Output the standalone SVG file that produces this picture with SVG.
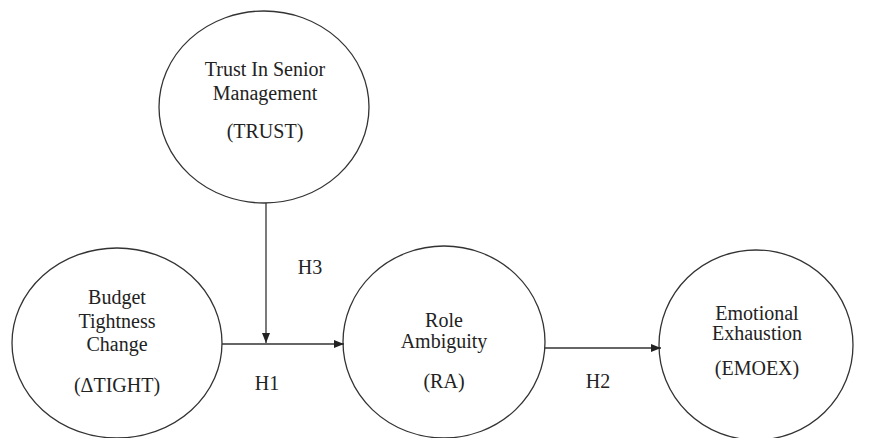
<svg xmlns="http://www.w3.org/2000/svg" width="876" height="438" viewBox="0 0 876 438">
<style>
.node{fill:#fff;stroke:#333;stroke-width:1.3}
.t{font-family:'Liberation Serif',Tinos,'Times New Roman',Times,serif;font-size:20px;fill:#222;text-anchor:middle}
.edge{stroke:#333;stroke-width:1.3;fill:none}
</style>
<defs>
<marker id="arr" markerWidth="10" markerHeight="8" refX="10" refY="4" orient="auto" markerUnits="userSpaceOnUse">
<path d="M0,0 L10,4 L0,8 Z" fill="#222"/>
</marker>
</defs>
<rect width="876" height="438" fill="#fff"/>
<g id="trust">
<ellipse class="node" cx="264" cy="107" rx="105" ry="96"/>
<text class="t" x="265" y="76">Trust In Senior</text>
<text class="t" x="265" y="100">Management</text>
<text class="t" x="265" y="138">(TRUST)</text>
</g>
<g id="tight">
<ellipse class="node" cx="117" cy="343" rx="105" ry="95"/>
<text class="t" x="117" y="304">Budget</text>
<text class="t" x="117" y="328">Tightness</text>
<text class="t" x="117" y="351">Change</text>
<text class="t" x="117" y="392">(ΔTIGHT)</text>
</g>
<g id="ra">
<ellipse class="node" cx="444" cy="342" rx="101" ry="96"/>
<text class="t" x="444" y="327">Role</text>
<text class="t" x="444" y="348">Ambiguity</text>
<text class="t" x="444" y="388">(RA)</text>
</g>
<g id="emoex">
<ellipse class="node" cx="756" cy="345" rx="97" ry="95"/>
<text class="t" x="757" y="320">Emotional</text>
<text class="t" x="757" y="340">Exhaustion</text>
<text class="t" x="757" y="375">(EMOEX)</text>
</g>
<g id="connectors">
<line class="edge" x1="266" y1="203" x2="266" y2="343" marker-end="url(#arr)"/>
<line class="edge" x1="222" y1="344" x2="344" y2="344" marker-end="url(#arr)"/>
<line class="edge" x1="545" y1="348" x2="661" y2="348" marker-end="url(#arr)"/>
<text class="t" x="310" y="274">H3</text>
<text class="t" x="267" y="390">H1</text>
<text class="t" x="598" y="388">H2</text>
</g>
</svg>
